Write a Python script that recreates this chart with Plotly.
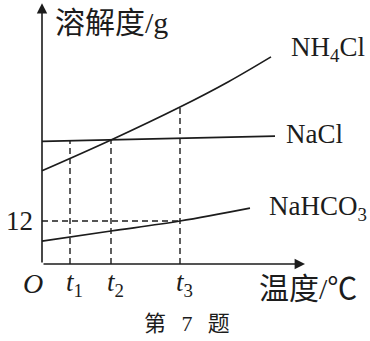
import numpy as np
import plotly.graph_objects as go

# ---- data (temperature in arbitrary units, solubility in g) ----
t_marks = [28, 69, 138]            # t1, t2, t3
t_names = ["1", "2", "3"]
nh4cl_t = [0, 69, 138, 186, 229]
nh4cl_s = [26.0, 34.6, 43.8, 50.8, 57.8]
nacl_t = [0, 233]
nacl_s = [34.2, 35.7]
nahco3_t = [0, 69, 138, 208]
nahco3_s = [6.4, 9.2, 12.0, 15.6]
ref_s = 12
x_end = 263
y_end = 72.8

W, H = 370, 341
INK = "#1c1c1c"
SERIF = "Liberation Serif, Noto Sans CJK SC"
CJK = "Liberation Serif, Noto Sans CJK SC"

fig = go.Figure()

line_style = dict(color=INK, width=1.7)
fig.add_trace(go.Scatter(x=nh4cl_t, y=nh4cl_s, mode="lines",
                         line=dict(shape="spline", smoothing=1.0, **line_style)))
fig.add_trace(go.Scatter(x=nacl_t, y=nacl_s, mode="lines", line=line_style))
fig.add_trace(go.Scatter(x=nahco3_t, y=nahco3_s, mode="lines",
                         line=dict(shape="spline", smoothing=1.0, **line_style)))

dash_style = dict(color=INK, width=1.4, dash="6px,4px")
tops = [np.interp(t_marks[0], nacl_t, nacl_s),
        np.interp(t_marks[1], nacl_t, nacl_s),
        np.interp(t_marks[2], nh4cl_t, nh4cl_s)]
for t, top in zip(t_marks, tops):
    fig.add_trace(go.Scatter(x=[t, t], y=[0, top], mode="lines", line=dash_style))
fig.add_trace(go.Scatter(x=[0, t_marks[2]], y=[ref_s, ref_s], mode="lines", line=dash_style))

# axes with arrows
for (x, y) in [(0, y_end), (x_end, 0)]:
    fig.add_annotation(x=x, y=y, ax=0, ay=0, xref="x", yref="y", axref="x", ayref="y",
                       text="", showarrow=True, arrowhead=2, arrowsize=1.3,
                       arrowwidth=1.6, arrowcolor=INK)

def px(xp, yp):
    return xp / W, 1 - yp / H

def label(text, xp, yp, size, xanchor="center", family=SERIF):
    x, y = px(xp, yp)
    fig.add_annotation(x=x, y=y, xref="paper", yref="paper", text=text,
                       showarrow=False, xanchor=xanchor, yanchor="middle",
                       font=dict(family=family, size=size, color=INK))

label("溶解度/g", 111, 23, 30, family=CJK)
label("温度/℃", 308, 288, 30, family=CJK)
label("NH<sub>4</sub>Cl", 289, 49, 27, xanchor="left")
label("NaCl", 284, 134, 27, xanchor="left")
label("NaHCO<sub>3</sub>", 267, 208, 27, xanchor="left")
label("12", 19, 221, 27)
label("<i>O</i>", 33, 283, 28)
for t, n in zip(t_marks, t_names):
    label(f"<i>t</i><sub>{n}</sub>", 42 + t + 4, 284, 27)
label("第\u2002\u20097\u2002\u2009题", 187, 323, 22, family=CJK)

fig.update_layout(
    width=W, height=H, margin=dict(l=0, r=0, t=0, b=0),
    paper_bgcolor="white", plot_bgcolor="white", showlegend=False,
    xaxis=dict(range=[-42, 328], visible=False, fixedrange=True),
    yaxis=dict(range=[-77 * 12 / 43, 264 * 12 / 43], visible=False, fixedrange=True),
)
fig.write_html("out.html", config={"displayModeBar": False})
